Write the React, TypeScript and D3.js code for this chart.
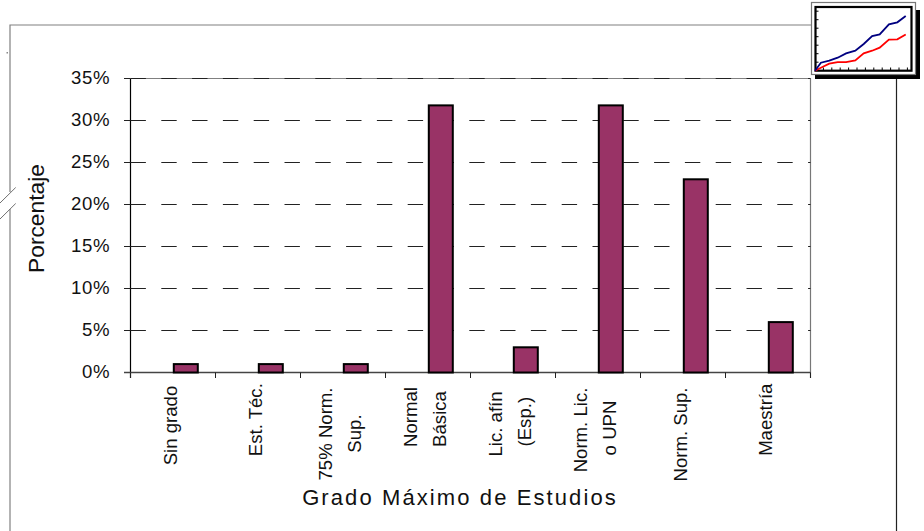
import React from "react";
import * as d3 from "d3";

const categories = ["Sin grado", "Est. Téc.", "75% Norm. Sup.", "Normal Básica", "Lic. afín (Esp.)", "Norm. Lic. o UPN", "Norm. Sup.", "Maestría"];
const categoryLines = [["Sin grado"], ["Est. Téc."], ["75% Norm.", "Sup."], ["Normal", "Básica"], ["Lic. afín", "(Esp.)"], ["Norm. Lic.", "o UPN"], ["Norm. Sup."], ["Maestría"]];
const values = [1, 1, 1, 31.8, 3, 31.8, 23, 6];
const yTicks = [0, 5, 10, 15, 20, 25, 30, 35];
const xTitle = "Grado Máximo de Estudios";
const yTitle = "Porcentaje";

const iconX = [0, 0.7, 1.7, 2.7, 3.7, 4.8, 5.8, 6.8, 7.7, 8.8, 9.8, 10.8];
const iconBlue = [0, 0.94, 1.18, 1.53, 2.04, 2.35, 3.14, 4.08, 4.27, 5.45, 5.69, 6.43];
const iconRed = [0, 0.35, 0.82, 1.02, 1.02, 1.22, 2.04, 2.35, 2.71, 3.65, 3.69, 4.27];
const iconTicks = [1, 2, 3, 4, 5, 6, 7, 8, 9, 10, 11];

// vertical centre of each tick label block (layout, not data)
const labelCentres = [[425.5], [419.7], [434, 433.5], [417, 419], [424, 421.7], [430, 428], [434.5], [419.7]];

const FONT = "'Liberation Sans', Arial, sans-serif";

export default function App() {
  const x = d3.scaleBand<string>().domain(categories).range([130.5, 810.5]).padding(0);
  const y = d3.scaleLinear().domain([0, 35]).range([372.5, 78.5]);
  const ticksX = [...categories.map((c) => x(c)!), 810.5];

  const ix = d3.scaleLinear().domain([0, 11]).range([815, 907.4]);
  const iy = d3.scaleLinear().domain([0, 7]).range([70.7, 11.2]);
  const line = d3.line<number>().x((_, i) => ix(iconX[i])).y((d) => iy(d)).curve(d3.curveLinear);

  return (
    <svg width={924} height={531} style={{ position: "absolute", left: 0, top: 0, background: "#fff", display: "block" }} fontFamily={FONT}>
      {/* outer frame */}
      <path d="M10 192V25H811" fill="none" stroke="#808080" strokeWidth={1.2} />
      <path d="M10 209V531" fill="none" stroke="#808080" strokeWidth={1.2} />
      <path d="M0 203L15.7 187.5M0 219L15.7 203.5" fill="none" stroke="#707070" strokeWidth={1} />
      <rect x={6.5} y={52} width={1.5} height={1.5} fill="#888" />
      <line x1={896.5} x2={896.5} y1={76} y2={531} stroke="#222" strokeWidth={1.2} />

      {/* plot frame */}
      <line x1={130.5} x2={130.5} y1={78.5} y2={378} stroke="#000" strokeWidth={1.2} />
      <line x1={810.5} x2={810.5} y1={78.5} y2={378} stroke="#777" strokeWidth={1.2} />

      {/* grid lines */}
      {yTicks.filter((t) => t > 0).map((t) => (
        <g key={t}>
          {t === 35 && <line x1={124} x2={810.5} y1={y(t)} y2={y(t)} stroke="#808080" strokeWidth={1.2} />}
          <line x1={124} x2={130.5} y1={y(t)} y2={y(t)} stroke="#222" strokeWidth={1} />
          <line x1={130.5} x2={810.5} y1={y(t)} y2={y(t)} stroke="#222" strokeWidth={1} strokeDasharray="15.4 15.4" />
        </g>
      ))}
      <line x1={124} x2={810.5} y1={y(0)} y2={y(0)} stroke="#444" strokeWidth={1.4} />
      {ticksX.map((t, i) => (
        <line key={i} x1={t} x2={t} y1={372.5} y2={378} stroke="#222" strokeWidth={1} />
      ))}

      {/* y labels */}
      {yTicks.map((t) => (
        <text key={t} x={110.3} y={y(t) + 5.7} textAnchor="end" fontSize={18.6} letterSpacing={0.7} fill="#111">{`${t}%`}</text>
      ))}

      {/* bars */}
      {categories.map((c, i) => (
        <rect key={c} x={x(c)! + 43.3} y={y(values[i])} width={24} height={y(0) - y(values[i])} fill="#993366" stroke="#000" strokeWidth={2} />
      ))}

      {/* category labels */}
      {categoryLines.map((ls, i) =>
        ls.map((l, j) => {
          const px = x(categories[i])! + 46 + (j - (ls.length - 1) / 2) * 29.5;
          const py = labelCentres[i][j];
          return (
            <text key={l} transform={`translate(${px},${py}) rotate(-90)`} textAnchor="middle" fontSize={18.6} fill="#111">{l}</text>
          );
        })
      )}

      {/* axis titles */}
      <text x={460} y={505} textAnchor="middle" fontSize={22} letterSpacing={2.1} fill="#111">{xTitle}</text>
      <text transform="translate(44,218.5) rotate(-90)" textAnchor="middle" fontSize={22.8} fill="#111">{yTitle}</text>

      {/* thumbnail icon */}
      <rect x={815} y={10} width={105} height={69} fill="#000" />
      <rect x={811.5} y={2.5} width={104} height={72} fill="#fff" stroke="#777" strokeWidth={1.2} />
      <rect x={815.5} y={7} width={96} height={63.7} fill="#fff" stroke="#000" strokeWidth={2.2} />
      {iconTicks.map((t) => (
        <g key={t}>
          <line x1={ix(t)} x2={ix(t)} y1={67.5} y2={70.7} stroke="#000" strokeWidth={1} />
          {t <= 7 && <line x1={815} x2={818.5} y1={iy(t)} y2={iy(t)} stroke="#000" strokeWidth={1} />}
        </g>
      ))}
      <path d={line(iconRed)!} fill="none" stroke="#ff0000" strokeWidth={1.8} />
      <path d={line(iconBlue)!} fill="none" stroke="#000080" strokeWidth={1.8} />
    </svg>
  );
}
